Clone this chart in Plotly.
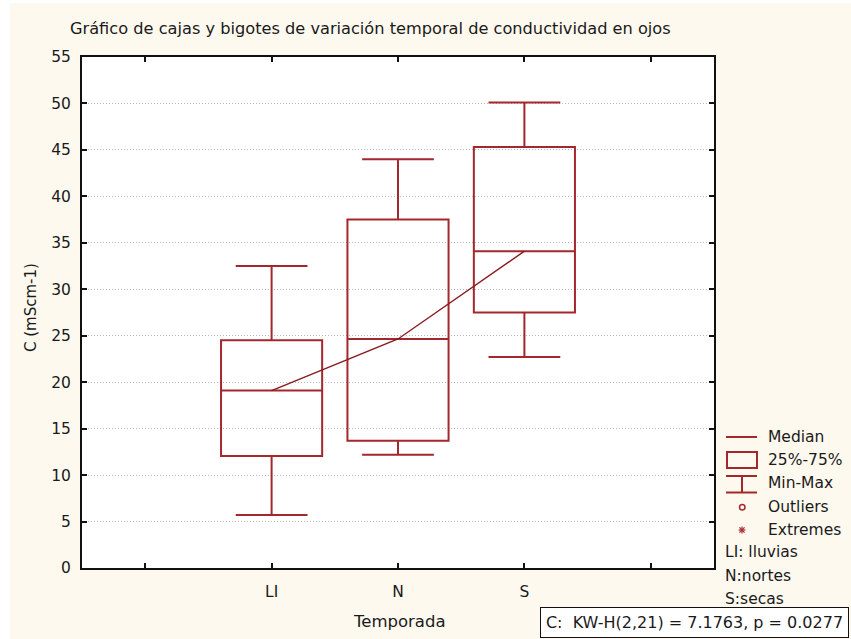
import plotly.graph_objects as go

# Conductividad por temporada (mScm-1)
temporadas = ["LI", "N", "S"]
posiciones = [1, 2, 3]
minimos = [5.7, 12.2, 22.7]
q1 = [12.05, 13.7, 27.5]
medianas = [19.1, 24.65, 34.1]
q3 = [24.5, 37.5, 45.3]
maximos = [32.5, 44.0, 50.1]

y_ticks = list(range(0, 56, 5))
x_ticks = [0, 1, 2, 3, 4]
x_ticktext = ["", "LI", "N", "S", ""]

titulo = "Gráfico de cajas y bigotes de variación temporal de conductividad en ojos"
leyenda = ["Median", "25%-75%", "Min-Max", "Outliers", "Extremes"]
notas = ["LI: lluvias", "N:nortes", "S:secas"]
prueba = "C:\u00a0\u00a0KW-H(2,21) = 7.1763, p = 0.0277"

W, H = 851, 639
L, R, T, B = 82, 714, 57, 568
ROJO = "#a3282d"
ROJO_OSC = "#8a1a1e"
CREMA = "#fef9ee"
FONT = "DejaVu Sans"
TXT = "#1a1a1a"


def px(x):
    return (x - L) / (R - L)


def py(y):
    return (B - y) / (B - T)


fig = go.Figure()

for t, p, lo, a, m, b, hi in zip(temporadas, posiciones, minimos, q1, medianas, q3, maximos):
    fig.add_trace(go.Box(
        x=[p], q1=[a], median=[m], q3=[b], lowerfence=[lo], upperfence=[hi],
        name=t, width=0.8, whiskerwidth=0.71,
        line=dict(color=ROJO, width=2), fillcolor="rgba(255,255,255,0)",
        boxpoints=False, showlegend=False, hoverinfo="skip",
    ))

# linea que une las medianas
fig.add_trace(go.Scatter(
    x=posiciones, y=medianas, mode="lines",
    line=dict(color=ROJO_OSC, width=1.4), showlegend=False, hoverinfo="skip",
))

shapes = [
    # fondo crema con borde blanco
    dict(type="rect", xref="paper", yref="paper", x0=px(10), x1=px(W + 5),
         y0=py(3), y1=py(H + 5), fillcolor=CREMA, line=dict(width=0), layer="below"),
    # area de trazado blanca
    dict(type="rect", xref="paper", yref="paper", x0=0, x1=1, y0=0, y1=1,
         fillcolor="white", line=dict(width=0), layer="below"),
]

ln = dict(color=ROJO, width=2)
# simbolos de la leyenda
shapes += [
    dict(type="line", xref="paper", yref="paper", x0=px(726), x1=px(757), y0=py(437), y1=py(437), line=ln),
    dict(type="rect", xref="paper", yref="paper", x0=px(727), x1=px(757), y0=py(452), y1=py(468), line=ln),
    dict(type="line", xref="paper", yref="paper", x0=px(726), x1=px(757), y0=py(476), y1=py(476), line=ln),
    dict(type="line", xref="paper", yref="paper", x0=px(726), x1=px(757), y0=py(492.5), y1=py(492.5), line=ln),
    dict(type="line", xref="paper", yref="paper", x0=px(742), x1=px(742), y0=py(476), y1=py(492.5), line=ln),
    dict(type="circle", xref="paper", yref="paper", x0=px(739.5), x1=px(745), y0=py(504.5), y1=py(510),
         line=dict(color=ROJO, width=1.5)),
]
cx, cy, s = 742, 530, 3.4
for dx, dy in [(s, 0), (0, s), (s * 0.75, s * 0.75), (s * 0.75, -s * 0.75)]:
    shapes.append(dict(type="line", xref="paper", yref="paper",
                       x0=px(cx - dx), x1=px(cx + dx), y0=py(cy - dy), y1=py(cy + dy),
                       line=dict(color=ROJO, width=1.2)))

annotations = [
    dict(text=titulo, x=px(68), y=py(28), xanchor="left", yanchor="middle",
         font=dict(size=16.2, color=TXT)),
    dict(text="Temporada", x=px(399), y=py(621), xanchor="center", yanchor="middle",
         font=dict(size=16.5, color=TXT)),
    dict(text="C (mScm-1)", x=px(31), y=py(308), xanchor="center", yanchor="middle",
         textangle=-90, font=dict(size=15, color=TXT)),
    dict(text=prueba, x=px(540), y=py(622.5), xanchor="left", yanchor="middle",
         width=297, align="center", bordercolor="#111111", borderwidth=1, borderpad=5,
         bgcolor="white", font=dict(size=16, color=TXT)),
]
for txt, yy in zip(leyenda, [437, 460, 483, 507, 529.5]):
    annotations.append(dict(text=txt, x=px(766), y=py(yy), xanchor="left", yanchor="middle",
                            font=dict(size=15.5, color=TXT)))
for txt, yy in zip(notas, [552, 575.5, 599]):
    annotations.append(dict(text=txt, x=px(723), y=py(yy), xanchor="left", yanchor="middle",
                            font=dict(size=15.5, color=TXT)))
for a in annotations:
    a.update(xref="paper", yref="paper", showarrow=False)

fig.update_layout(
    width=W, height=H,
    margin=dict(l=L, r=W - R, t=T, b=H - B, pad=0),
    paper_bgcolor="white", plot_bgcolor="white",
    font=dict(family=FONT, size=15, color=TXT),
    showlegend=False,
    shapes=shapes, annotations=annotations,
    xaxis=dict(range=[-0.5, 4.5], tickvals=x_ticks, ticktext=x_ticktext,
               showgrid=False, zeroline=False, showline=True, linecolor="#111111", linewidth=2,
               mirror="ticks", ticks="inside", ticklen=5, tickwidth=1.5, tickcolor="#111111",
               ticklabelstandoff=8, tickfont=dict(size=15.5, color=TXT)),
    yaxis=dict(range=[0, 55], tickvals=y_ticks,
               showgrid=True, gridcolor="#b8b8b8", gridwidth=1, griddash="1px,2px",
               zeroline=False, showline=True, linecolor="#111111", linewidth=2,
               mirror="ticks", ticks="inside", ticklen=5, tickwidth=1.5, tickcolor="#111111",
               ticklabelstandoff=6, tickfont=dict(size=15.5, color=TXT)),
)

fig.write_html("out.html")
